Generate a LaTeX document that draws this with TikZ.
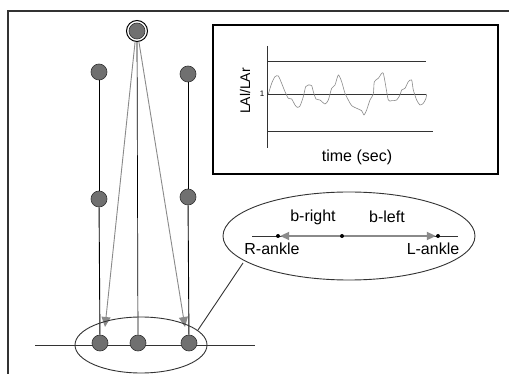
\documentclass[tikz,border=0pt]{standalone}
\usepackage{fontspec}
\setmainfont{Liberation Sans}
\usetikzlibrary{arrows.meta}
\definecolor{ballgray}{HTML}{707070}
\definecolor{arrgray}{HTML}{8A8A8A}
\definecolor{framegray}{HTML}{333333}
\tikzset{
  ball/.style={circle, fill=ballgray, draw=framegray, line width=0.6pt, minimum size=16pt, inner sep=0pt},
  dotn/.style={circle, fill=black, minimum size=4pt, inner sep=0pt},
  limb/.style={draw=black, line width=0.9pt},
  ray/.style={draw=arrgray, line width=0.9pt, -{Triangle[length=10pt,width=9pt,fill=arrgray]}},
  bigray/.style={draw=arrgray, line width=2pt, -{Triangle[length=9pt,width=8pt,fill=arrgray]}},
  lbl/.style={font=\fontsize{16}{18}\selectfont, inner sep=0pt},
  thinl/.style={draw=framegray, line width=0.9pt}
}
\begin{document}
\begin{tikzpicture}[x=1pt,y=-1pt]
\useasboundingbox (0,0) rectangle (509,374);
\fill[white] (0,0) rectangle (509,374);
% frame (top and left only)
\draw[framegray, line width=2pt] (509,11) -- (8,11) -- (8,374);
% inset plot box
\draw[black, line width=1.5pt] (213,25) rectangle (498,174);
\coordinate (ax1) at (267,46);
\coordinate (ax2) at (267,148);
\draw[thinl] (ax1) -- (ax2);
\draw[thinl] (267,61) -- (426,61);
\draw[thinl] (267,94) -- (426,94);
\draw[thinl] (267,131) -- (433,131);
\node[font=\fontsize{8}{9}\selectfont, inner sep=0pt] (one) at (262,94) {1};
\node[lbl, font=\fontsize{14}{16}\selectfont, rotate=90] (ylab) at (245,91) {LAl/LAr};
\node[lbl] (xlab) at (357,157) {time (sec)};
\draw[arrgray, line width=0.6pt, xshift=210pt, yshift=-20pt, x=0.3333pt, y=-0.3333pt]
  plot[smooth, tension=0.4] coordinates {
  (175,222) (185,190) (195,170) (205,168) (215,190) (225,215) (235,235) (245,237)
  (255,255) (262,262) (270,258) (280,230) (287,200) (295,195) (305,197) (310,215)
  (318,237) (330,240) (345,252) (355,240) (365,205) (375,195) (385,165) (395,185)
  (405,220) (415,240) (425,257) (440,265) (455,272) (462,285) (470,270) (480,240)
  (490,222) (493,185) (505,175) (515,160) (520,160) (525,185) (535,240) (545,242)
  (560,240) (570,225) (575,210) (585,205) (595,185) (605,180) (610,210) (620,240)
  (630,255) (640,250) (648,235) (650,222)};
% ground line
\coordinate (g1) at (35,345);
\coordinate (g2) at (255,345);
\draw[thinl] (g1) -- (g2);
% figure nodes
\node[circle, draw=black, line width=1pt, fill=white, minimum size=21pt, inner sep=0pt] (headring) at (137,31) {};
\node[ball] (head) at (137,31) {};
\node[ball] (lt) at (99,72) {};
\node[ball] (rt) at (188,74) {};
\node[ball] (lm) at (99,199) {};
\node[ball] (rm) at (188,197) {};
\node[ball] (lb) at (100,343) {};
\node[ball] (cb) at (138,343) {};
\node[ball] (rb) at (189,343) {};
% limbs
\draw[limb] (lt) -- (lm);
\draw[limb] (lm) -- (lb);
\draw[limb] (rt) -- (rm);
\draw[limb] (rm) -- (rb);
\draw[limb, line width=0.7pt] (headring) -- (cb);
% rays
\coordinate (lt1) at (105,327);
\coordinate (rt1) at (185,327);
\draw[ray] (headring.-100) -- (lt1);
\draw[ray] (headring.-80) -- (rt1);
% bottom ellipse
\draw[framegray, line width=0.9pt] (141,345) ellipse [x radius=66, y radius=28];
\coordinate (be) at (198,330);
% big ellipse
\draw[framegray, line width=0.9pt] (349,236) ellipse [x radius=126, y radius=44];
\coordinate (ce) at (243,263);
\draw[thinl] (be) -- (ce);
% inside big ellipse
\coordinate (h1) at (252,236);
\coordinate (h2) at (458,236);
\draw[thinl] (h1) -- (h2);
\node[dotn] (rank) at (278,236) {};
\node[dotn] (mid) at (342,236) {};
\node[dotn] (lank) at (438,236) {};
\draw[bigray] (mid) -- (rank);
\draw[bigray] (mid) -- (lank);
\node[lbl] (br) at (313,217) {b-right};
\node[lbl] (bl) at (387,217) {b-left};
\node[lbl] (ra) at (272,249) {R-ankle};
\node[lbl] (la) at (433,249) {L-ankle};
\end{tikzpicture}
\end{document}
